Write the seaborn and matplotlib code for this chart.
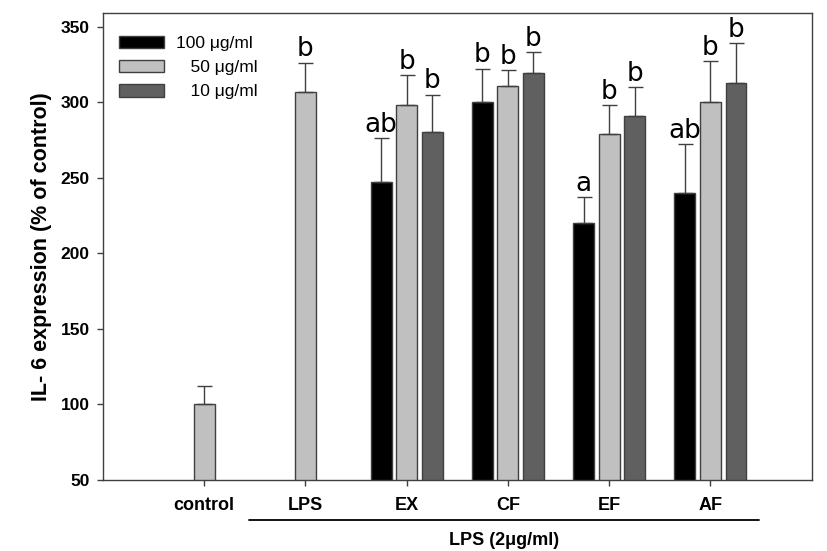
import numpy as np
import pandas as pd
import seaborn as sns
import matplotlib
matplotlib.use('Agg')
import matplotlib.pyplot as plt

# values (IL-6 expression, % of control)
groups = ['control', 'LPS', 'EX', 'CF', 'EF', 'AF']
doses = ['100 μg/ml', '50 μg/ml', '10 μg/ml']

dose100 = [np.nan, np.nan, 247, 300, 220, 240]
err100 = [np.nan, np.nan, 29, 22, 17, 32]
let100 = ['', '', 'ab', 'b', 'a', 'ab']

dose50 = [100, 307, 298, 311, 279, 300]
err50 = [12, 19, 20, 10, 19, 27]
let50 = ['', 'b', 'b', 'b', 'b', 'b']

dose10 = [np.nan, np.nan, 280, 319, 291, 313]
err10 = [np.nan, np.nan, 25, 14, 19, 26]
let10 = ['', '', 'b', 'b', 'b', 'b']

legend_labels = ['100 μg/ml', '\u2007 50 μg/ml', '\u2007 10 μg/ml']
colors = ['#000000', '#c0c0c0', '#606060']

rows = []
for d, vals, errs, lets in zip(doses, [dose100, dose50, dose10],
                               [err100, err50, err10], [let100, let50, let10]):
    for g, v, e, l in zip(groups, vals, errs, lets):
        if not np.isnan(v):
            rows.append({'group': g, 'dose': d, 'value': v, 'err': e, 'letter': l})
df = pd.DataFrame(rows)

sns.set_style('white')
plt.rcParams['font.family'] = ['Liberation Sans', 'DejaVu Sans']
plt.rcParams['text.color'] = 'black'
plt.rcParams['axes.labelcolor'] = 'black'
plt.rcParams['xtick.color'] = 'black'
plt.rcParams['ytick.color'] = 'black'

fig = plt.figure(figsize=(8.27, 5.51), dpi=100)
ax = fig.add_axes([0.1245, 0.1289, 0.857, 0.8475])

sns.barplot(data=df, x='group', y='value', hue='dose', order=groups,
            hue_order=doses, palette=colors, width=0.756, gap=0.18,
            edgecolor='#404040', linewidth=1, errorbar=None, ax=ax)

# error bars (upper only) and significance letters
for cont, d in zip(ax.containers, doses):
    sub = df[df['dose'] == d]
    for bar in cont:
        xc = bar.get_x() + bar.get_width() / 2
        g = groups[int(round(xc))]
        r = sub[sub['group'] == g]
        if r.empty:
            continue
        v = r['value'].iloc[0]
        e = r['err'].iloc[0]
        ax.errorbar(xc, v, yerr=[[0], [e]], fmt='none', ecolor='#404040',
                    elinewidth=1, capsize=5.4, capthick=1)
        ax.text(xc, v + e + 0.3, r['letter'].iloc[0], ha='center', va='bottom',
                fontsize=19, family=['DejaVu Sans'], color='black')

ax.set_xlim(-1, 6)
ax.set_ylim(50, 359)
ax.set_yticks([50, 100, 150, 200, 250, 300, 350])
ax.set_xlabel('')
ax.set_ylabel('IL- 6 expression (% of control)', fontsize=15.5, fontweight='bold',
              labelpad=6, color='black')

for s in ax.spines.values():
    s.set_color('#404040')
    s.set_linewidth(1)
ax.tick_params(axis='both', direction='out', length=4.5, width=1, color='#404040',
               labelcolor='black', bottom=True, left=True)
ax.tick_params(axis='x', pad=8, labelsize=13)
ax.tick_params(axis='y', pad=5, labelsize=12.5)
for t in ax.get_xticklabels() + ax.get_yticklabels():
    t.set_fontweight('bold')

# bracket line and caption under the LPS-treated groups
tr = ax.get_xaxis_transform()
ax.plot([0.44, 5.48], [-0.086, -0.086], color='black', lw=1.3,
        transform=tr, clip_on=False)
ax.text(2.96, -0.13, 'LPS (2μg/ml)', transform=tr, ha='center', va='center',
        fontsize=13, fontweight='bold', color='black')

handles, _ = ax.get_legend_handles_labels()
leg = ax.legend(handles, legend_labels, loc='upper left', frameon=False,
                fontsize=12.5, handlelength=2.6, handleheight=0.75,
                handletextpad=0.7, labelspacing=0.5,
                bbox_to_anchor=(0.0, 0.985))
for t in leg.get_texts():
    t.set_color('black')

fig.savefig('out.png', dpi=100)
